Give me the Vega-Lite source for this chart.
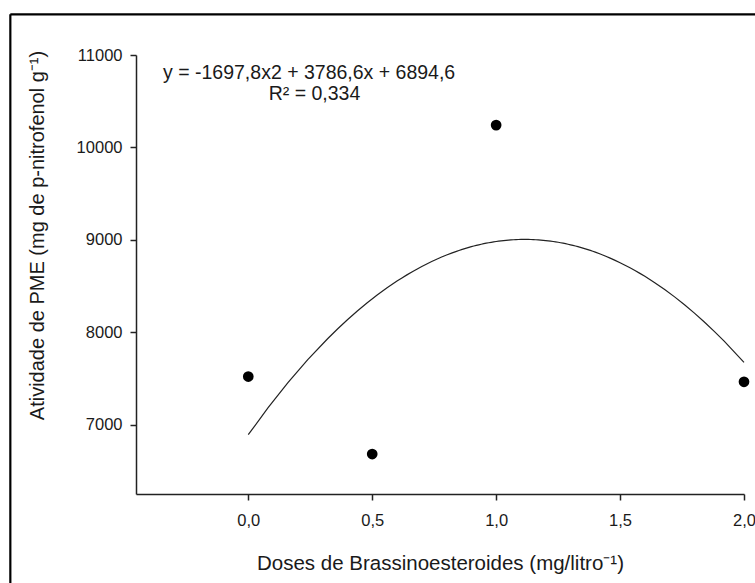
{
  "$schema": "https://vega.github.io/schema/vega-lite/v6.json",
  "width": 608,
  "height": 439,
  "autosize": "none",
  "padding": {"left": 136, "top": 55, "right": 11, "bottom": 89},
  "background": "white",
  "config": {
    "view": {"stroke": null},
    "font": "Liberation Sans",
    "axis": {
      "grid": false,
      "domainColor": "#222222",
      "tickColor": "#222222",
      "domainWidth": 1.5,
      "tickWidth": 1.5,
      "labelColor": "#1a1a1a",
      "titleColor": "#1a1a1a",
      "labelFont": "Liberation Sans",
      "titleFont": "Liberation Sans",
      "titleFontWeight": "normal"
    }
  },
  "datasets": {
    "pts": [
      {"dose": 0, "pme": 7524},
      {"dose": 0.5, "pme": 6686},
      {"dose": 1, "pme": 10242},
      {"dose": 2, "pme": 7467}
    ]
  },
  "data": {"name": "pts"},
  "layer": [
    {
      "mark": {"type": "circle", "size": 115, "color": "black", "opacity": 1},
      "encoding": {
        "x": {
          "field": "dose",
          "type": "quantitative",
          "scale": {"domain": [-0.453, 2.0], "nice": false, "zero": false},
          "axis": {
            "values": [0, 0.5, 1, 1.5, 2],
            "labelExpr": "replace(format(datum.value, '.1f'), '.', ',')",
            "tickSize": 6,
            "labelBaseline": "alphabetic",
            "labelPadding": 25.7,
            "labelFontSize": 16.5,
            "labelFlush": false,
            "labelOverlap": false,
            "title": "Doses de Brassinoesteroides (mg/litro⁻¹)",
            "titleFontSize": 20.5,
            "titleBaseline": "alphabetic",
            "titleY": 75
          }
        },
        "y": {
          "field": "pme",
          "type": "quantitative",
          "scale": {"domain": [6254, 11000], "nice": false, "zero": false},
          "axis": {
            "values": [7000, 8000, 9000, 10000, 11000],
            "format": "d",
            "tickSize": 6,
            "labelPadding": 8,
            "labelFontSize": 16.5,
            "title": "Atividade de PME (mg de p-nitrofenol g⁻¹)",
            "titleFontSize": 20,
            "titleAngle": -90,
            "titleAlign": "center",
            "titleBaseline": "alphabetic",
            "titleX": -93,
            "titleY": 180
          }
        }
      }
    },
    {
      "transform": [
        {"regression": "pme", "on": "dose", "method": "poly", "order": 2, "extent": [0, 2]}
      ],
      "mark": {"type": "line", "color": "#222222", "strokeWidth": 1.2},
      "encoding": {
        "x": {"field": "dose", "type": "quantitative"},
        "y": {"field": "pme", "type": "quantitative"}
      }
    },
    {
      "data": {"values": [{}]},
      "mark": {"type": "text", "align": "left", "baseline": "alphabetic", "fontSize": 19.5, "color": "#1a1a1a"},
      "encoding": {
        "x": {"datum": -0.344},
        "y": {"datum": 10740},
        "text": {"value": "y = -1697,8x2 + 3786,6x + 6894,6"}
      }
    },
    {
      "data": {"values": [{}]},
      "mark": {"type": "text", "align": "center", "baseline": "alphabetic", "fontSize": 19.5, "color": "#1a1a1a"},
      "encoding": {
        "x": {"datum": 0.267},
        "y": {"datum": 10513},
        "text": {"value": "R² = 0,334"}
      }
    },
    {
      "data": {"values": [{}]},
      "mark": {"type": "rule", "color": "black", "strokeWidth": 2.2},
      "encoding": {
        "x": {"datum": -0.96},
        "x2": {"datum": 2.4},
        "y": {"datum": 11440}
      }
    },
    {
      "data": {"values": [{}]},
      "mark": {"type": "rule", "color": "black", "strokeWidth": 2.2},
      "encoding": {
        "x": {"datum": -0.96},
        "y": {"datum": 11440},
        "y2": {"datum": 5000}
      }
    }
  ]
}
